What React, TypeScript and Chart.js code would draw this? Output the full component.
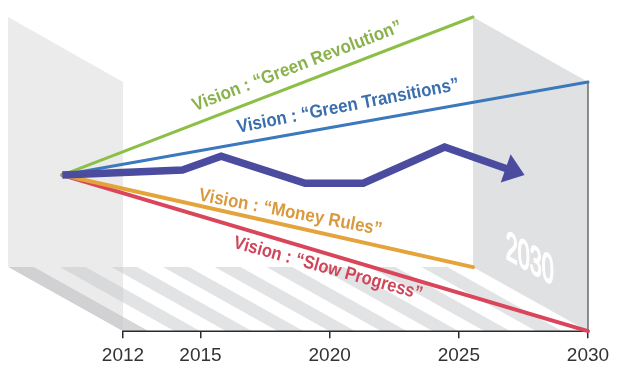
import React, { useEffect, useRef } from 'react';
import { Chart, registerables } from 'chart.js';

Chart.register(...registerables);

// ---------- data ----------
const tickYears = [2012, 2015, 2020, 2025, 2030];

const originYear = 2009.65;
const originValue = 49.7;

const scenarioNames = [
  'Vision : \u201cGreen Revolution\u201d',
  'Vision : \u201cGreen Transitions\u201d',
  'Vision : \u201cMoney Rules\u201d',
  'Vision : \u201cSlow Progress\u201d',
];
const scenarioEndYears = [2025.55, 2030, 2025.55, 2030];
const scenarioEndValues = [100, 79.3, 20.4, 0];

const trendYears = [2009.65, 2014.3, 2015.8, 2019.05, 2021.3, 2024.45, 2026.85];
const trendValues = [49.7, 51.3, 55.7, 47.1, 47.1, 58.6, 51.7];

const wallLabel = '2030';

// ---------- styles ----------
const lineColors = ['#8cbf46', '#3b78bd', '#e5a33c', '#d9465c'];
const textColors = ['#8ab24c', '#3a6fae', '#d9993f', '#cf465b'];
const lineWidths = [3, 3, 4, 4];
const trendColor = '#4b4b9f';
const FONT = "'Liberation Sans', Arial, Helvetica, sans-serif";

// label placement: anchor year on the line, perpendicular offset (px), tilt (deg), text length (px)
const labelAt = [2014.95, 2016.54, 2014.87, 2016.46];
const labelOffset = [-12, -11, -5, 21];
const labelTilt = [0, -1, -1.9, -1.1];
const labelWidth = [223, 226, 186, 195];

const decorPlugin = {
  id: 'decor',
  beforeDraw(chart: any) {
    const { ctx, scales } = chart;
    const xs = scales.x;
    const ys = scales.y;
    const endPx = (i: number) => {
      const d = chart.data.datasets[i].data;
      const last = d[d.length - 1];
      return [xs.getPixelForValue(last.x), ys.getPixelForValue(last.y)];
    };
    const backTop = endPx(1);
    const frontTop = endPx(2);
    const backBot = endPx(3);
    const frontBot = endPx(4);
    const shift = xs.getPixelForValue(2030) - xs.getPixelForValue(2012);
    const bl = [backBot[0] - shift, backBot[1]];
    const fl = [frontBot[0] - shift, frontBot[1]];
    const poly = (pts: number[][]) => {
      ctx.beginPath();
      ctx.moveTo(pts[0][0], pts[0][1]);
      for (let i = 1; i < pts.length; i++) ctx.lineTo(pts[i][0], pts[i][1]);
      ctx.closePath();
    };
    ctx.save();
    // floor stripes
    poly([bl, backBot, frontBot, fl]);
    ctx.clip();
    const period = shift / 9;
    const w = period / 2;
    const dx = frontBot[0] - backBot[0];
    for (let k = 0; k <= 9; k++) {
      const x0 = bl[0] + k * period;
      poly([[x0, bl[1]], [x0 + w, bl[1]], [x0 + w + dx, fl[1]], [x0 + dx, fl[1]]]);
      ctx.fillStyle = k === 0 ? '#d6d7d9' : '#e2e3e5';
      ctx.fill();
    }
    ctx.restore();
    ctx.save();
    // left wall (translucent)
    poly([
      [backTop[0] - shift, backTop[1]],
      [frontTop[0] - shift, frontTop[1]],
      [frontBot[0] - shift, frontBot[1]],
      [backBot[0] - shift, backBot[1]],
    ]);
    ctx.fillStyle = 'rgba(200,200,200,0.36)';
    ctx.fill();
    // right wall
    poly([backTop, frontTop, frontBot, backBot]);
    ctx.fillStyle = '#e0e1e3';
    ctx.fill();
    ctx.beginPath();
    ctx.moveTo(frontTop[0], frontTop[1]);
    ctx.lineTo(frontBot[0], frontBot[1]);
    ctx.strokeStyle = '#6a6a6a';
    ctx.lineWidth = 1.5;
    ctx.stroke();
    // wall label
    const slope = (frontBot[1] - backBot[1]) / (frontBot[0] - backBot[0]);
    const tx = backBot[0] + (frontBot[0] - backBot[0]) * 0.285;
    const ty = backBot[1] + (tx - backBot[0]) * slope - 27;
    ctx.translate(tx, ty);
    ctx.transform(1, slope, 0, 1, 0, 0);
    ctx.font = '36px ' + FONT;
    const m = ctx.measureText(wallLabel).width;
    ctx.scale(48 / m, 1.13);
    ctx.fillStyle = 'rgba(255,255,255,0.95)';
    ctx.strokeStyle = 'rgba(255,255,255,0.95)';
    ctx.lineWidth = 1.6;
    ctx.lineJoin = 'round';
    ctx.textBaseline = 'alphabetic';
    ctx.textAlign = 'left';
    ctx.fillText(wallLabel, 0, 0);
    ctx.strokeText(wallLabel, 0, 0);
    ctx.restore();
  },
  beforeDatasetsDraw(chart: any) {
    const { ctx, scales, chartArea } = chart;
    const xs = scales.x;
    ctx.save();
    ctx.beginPath();
    ctx.moveTo(xs.getPixelForValue(tickYears[0]) - 0.75, chartArea.bottom);
    ctx.lineTo(xs.getPixelForValue(tickYears[tickYears.length - 1]) + 0.75, chartArea.bottom);
    ctx.strokeStyle = '#2b2b2b';
    ctx.lineWidth = 1.5;
    ctx.stroke();
    ctx.restore();
  },
  afterDatasetsDraw(chart: any) {
    const { ctx, scales } = chart;
    const xs = scales.x;
    ctx.save();
    // arrow head on trend
    const pts = chart.getDatasetMeta(0).data;
    const a = pts[pts.length - 2];
    const b = pts[pts.length - 1];
    let ux = b.x - a.x;
    let uy = b.y - a.y;
    const len = Math.hypot(ux, uy);
    ux /= len;
    uy /= len;
    const px = -uy;
    const py = ux;
    const hw = 15;
    const hl = 19;
    ctx.beginPath();
    ctx.moveTo(b.x - ux + px * hw, b.y - uy + py * hw);
    ctx.lineTo(b.x + ux * hl, b.y + uy * hl);
    ctx.lineTo(b.x - ux - px * hw, b.y - uy - py * hw);
    ctx.closePath();
    ctx.fillStyle = trendColor;
    ctx.fill();
    ctx.restore();

    // scenario labels
    for (let i = 0; i < scenarioNames.length; i++) {
      const p = chart.getDatasetMeta(i + 1).data;
      const p0 = p[0];
      const p1 = p[p.length - 1];
      const ang = Math.atan2(p1.y - p0.y, p1.x - p0.x) + (labelTilt[i] * Math.PI) / 180;
      const ax = xs.getPixelForValue(labelAt[i]);
      const ay = p0.y + ((ax - p0.x) * (p1.y - p0.y)) / (p1.x - p0.x);
      ctx.save();
      ctx.translate(ax, ay);
      ctx.rotate(ang);
      ctx.font = 'bold 18.5px ' + FONT;
      const m = ctx.measureText(scenarioNames[i]).width;
      ctx.scale(labelWidth[i] / m, 1);
      ctx.fillStyle = textColors[i];
      ctx.textAlign = 'left';
      ctx.textBaseline = 'alphabetic';
      ctx.fillText(scenarioNames[i], 0, labelOffset[i]);
      ctx.restore();
    }
  },
};

export default function App() {
  const ref = useRef<HTMLCanvasElement | null>(null);
  useEffect(() => {
    document.body.style.margin = '0';
    const canvas = ref.current;
    if (!canvas) return;
    const scenarioSets = scenarioNames.map((name, i) => ({
      label: name,
      data: [
        { x: originYear, y: originValue },
        { x: scenarioEndYears[i], y: scenarioEndValues[i] },
      ],
      borderColor: lineColors[i],
      borderWidth: lineWidths[i],
      pointRadius: 0,
      clip: false as any,
      borderCapStyle: 'round' as const,
    }));
    const chart = new Chart(canvas, {
      type: 'line',
      data: {
        datasets: [
          {
            label: 'Trend',
            data: trendYears.map((x, i) => ({ x, y: trendValues[i] })),
            borderColor: trendColor,
            borderWidth: 7.5,
            pointRadius: 0,
            borderJoinStyle: 'miter',
            borderCapStyle: 'butt',
            clip: false as any,
          },
          ...scenarioSets,
        ],
      },
      options: {
        animation: false,
        responsive: false,
        devicePixelRatio: 1,
        layout: { padding: { left: 61, right: 35, top: 17, bottom: 13 } },
        plugins: { legend: { display: false }, tooltip: { enabled: false } },
        elements: { line: { tension: 0 } },
        scales: {
          x: {
            type: 'linear',
            min: 2009.6,
            max: 2030,
            afterBuildTicks: (s: any) => {
              s.ticks = tickYears.map((v) => ({ value: v }));
            },
            grid: {
              display: true,
              drawOnChartArea: false,
              drawTicks: true,
              tickLength: 7,
              color: '#2b2b2b',
              lineWidth: 1.5,
            },
            border: { display: false },
            ticks: {
              autoSkip: false,
              maxRotation: 0,
              padding: 6,
              color: '#333333',
              font: { family: FONT, size: 19 },
              callback: (v: any) => String(v),
            },
          },
          y: { display: false, min: 0, max: 100 },
        },
      },
      plugins: [decorPlugin],
    });
    return () => chart.destroy();
  }, []);
  return (
    <div style={{ width: 623, height: 386 }}>
      <canvas ref={ref} width={623} height={386} style={{ display: 'block' }} />
    </div>
  );
}
